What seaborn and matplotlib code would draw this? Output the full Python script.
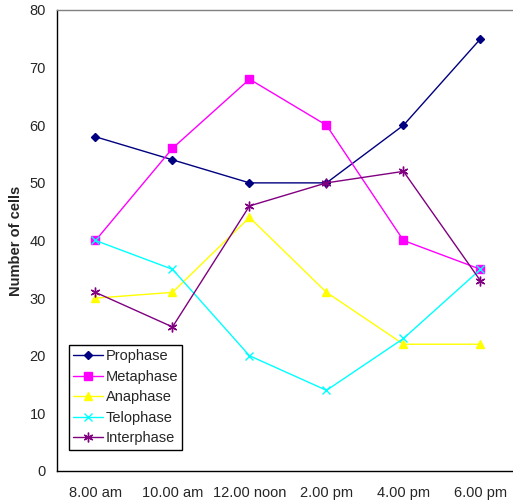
import numpy as np
import pandas as pd
import matplotlib
matplotlib.use("Agg")
import matplotlib.pyplot as plt
import seaborn as sns

# Data
times = ['8.00 am', '10.00 am', '12.00 noon', '2.00 pm', '4.00 pm', '6.00 pm']
prophase = [58, 54, 50, 50, 60, 75]
metaphase = [40, 56, 68, 60, 40, 35]
anaphase = [30, 31, 44, 31, 22, 22]
telophase = [40, 35, 20, 14, 23, 35]
interphase = [31, 25, 46, 50, 52, 33]

phases = ['Prophase', 'Metaphase', 'Anaphase', 'Telophase', 'Interphase']
series = [prophase, metaphase, anaphase, telophase, interphase]

colors = ['#000080', '#FF00FF', '#FFFF00', '#00FFFF', '#800080']
markers = ['D', 's', '^', 'x', (6, 2, 0)]
msizes = [4.5, 5.5, 5.5, 6, 7]

sns.set_style('white')
plt.rcParams['font.family'] = ['Liberation Sans', 'DejaVu Sans']

fig = plt.figure(figsize=(5.13, 5.03), dpi=100)
ax = fig.add_axes([57 / 513, 1 - 471 / 503, 462 / 513, 461 / 503])

for name, vals, c, m, ms in zip(phases, series, colors, markers, msizes):
    d = pd.DataFrame({'pos': range(len(times)), 'cells': vals})
    sns.lineplot(data=d, x='pos', y='cells', color=c, marker=m, markersize=ms,
                 markeredgecolor=c, markerfacecolor=c, markeredgewidth=1,
                 linewidth=1, label=name, ax=ax)

ax.set_xlim(-0.5, 5.5)
ax.set_ylim(0, 80)
ax.set_yticks(np.arange(0, 81, 10))
ax.set_xticks(range(len(times)))
ax.set_xticklabels(times, fontsize=10.5)
ax.set_xticks(np.arange(-0.5, 6, 1), minor=True)
ax.tick_params(axis='x', which='major', length=0, pad=11)
ax.tick_params(axis='x', which='minor', length=5, width=1, color='black', direction='out')
ax.tick_params(axis='y', length=5, width=1, color='black', direction='out', labelsize=10.5, pad=3)

ax.set_xlabel('')
ax.set_ylabel('Number of cells', fontsize=10.5, fontweight='bold', labelpad=5)

for s in ['left', 'bottom']:
    ax.spines[s].set_color('black')
    ax.spines[s].set_linewidth(1)
ax.spines['top'].set_color('#808080')
ax.spines['top'].set_linewidth(1)
ax.spines['right'].set_visible(False)

leg = ax.legend(loc='lower left', bbox_to_anchor=(0.026, 0.046), fontsize=10.5,
                frameon=True, fancybox=False, edgecolor='black', framealpha=1,
                handlelength=2.0, handletextpad=0.2, labelspacing=0.45,
                borderpad=0.3, borderaxespad=0)
leg.get_frame().set_linewidth(1)

fig.savefig('out.png', dpi=100)
